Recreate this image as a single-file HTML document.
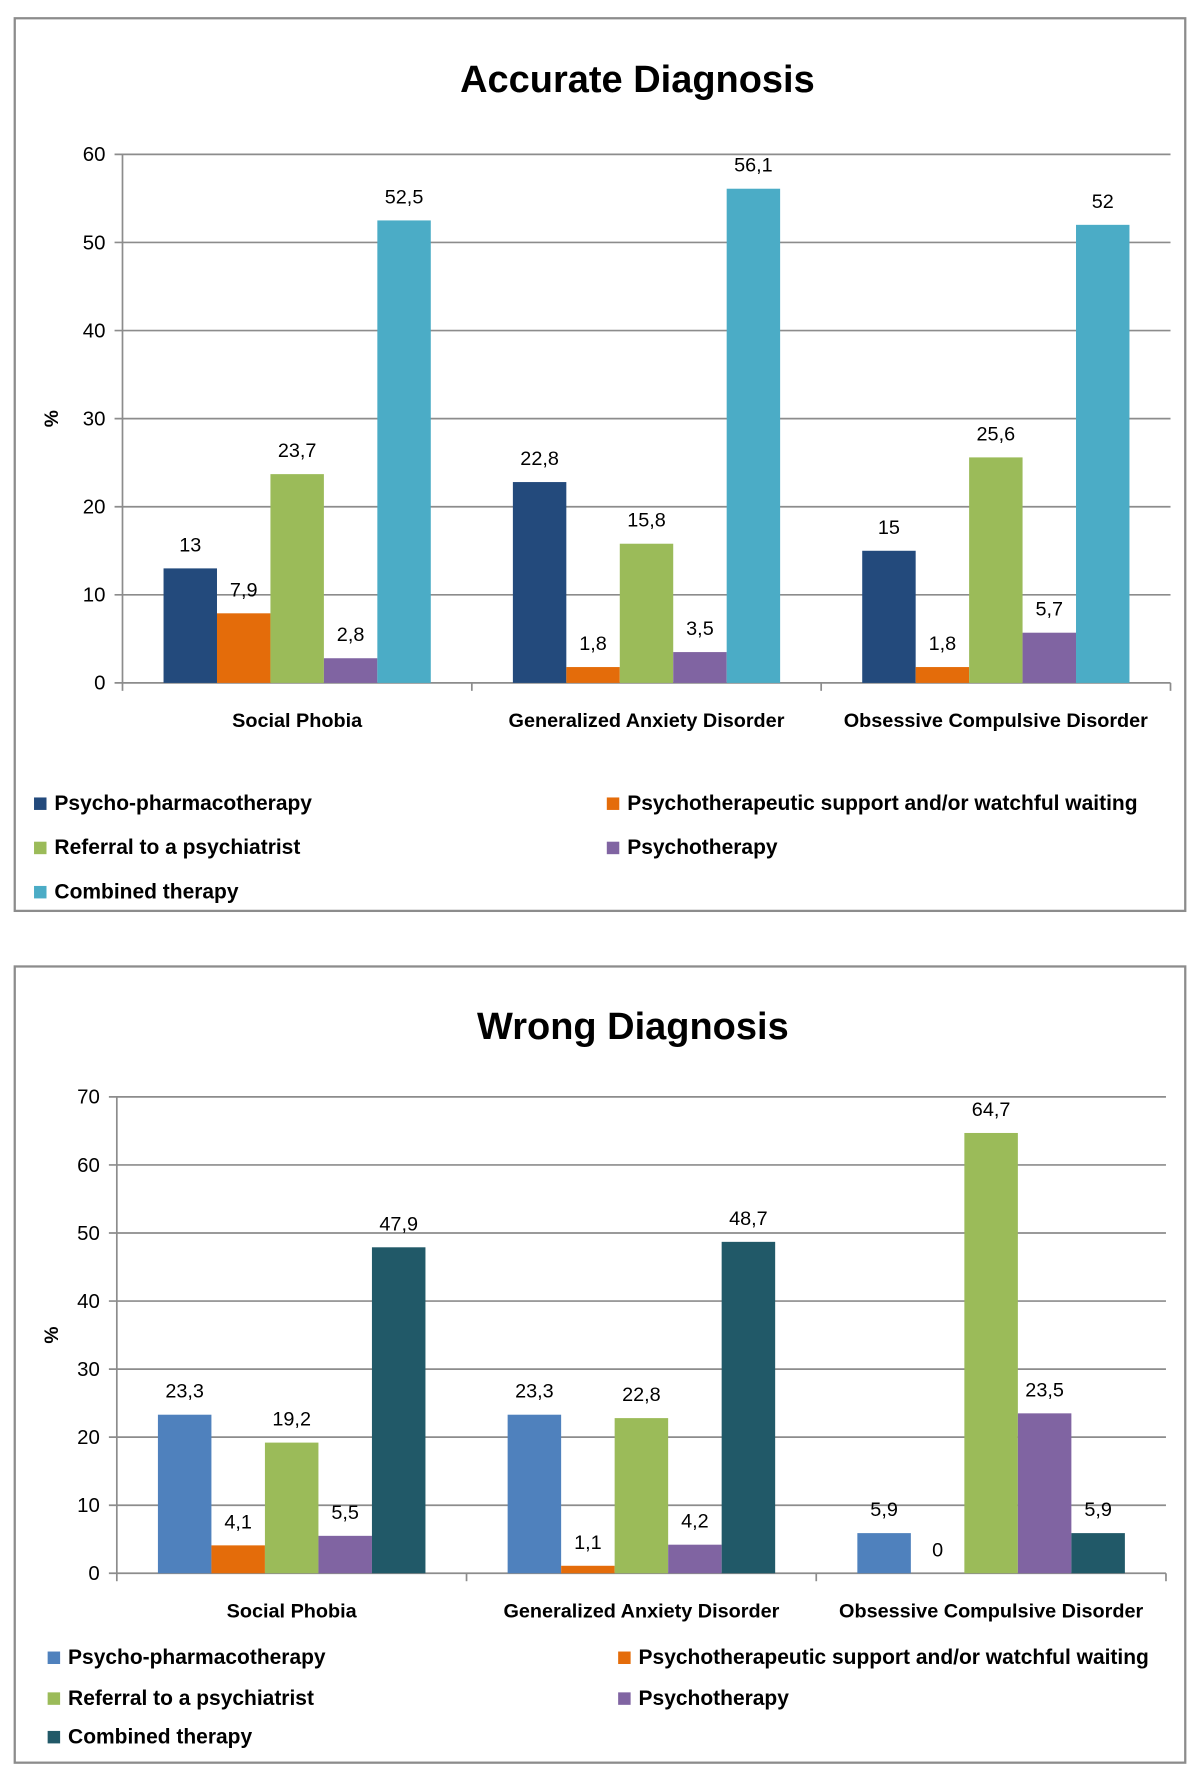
<!DOCTYPE html>
<html><head><meta charset="utf-8"><style>
html,body{margin:0;padding:0;background:#fff}
svg{display:block}
text{font-family:"Liberation Sans",sans-serif}
</style></head><body>
<svg id="svg" width="1200" height="1773" viewBox="0 0 1058 1563">
<rect x="13" y="16" width="1032" height="787" fill="#fff" stroke="#8c8c8c" stroke-width="2"/>
<rect x="13" y="852" width="1032" height="702" fill="#fff" stroke="#8c8c8c" stroke-width="2"/>
<text x="562" y="81" text-anchor="middle" font-size="33.5" font-weight="bold">Accurate Diagnosis</text>
<text x="558" y="916" text-anchor="middle" font-size="33.5" font-weight="bold">Wrong Diagnosis</text>
<g id="c1"></g><g id="c2"></g>
</svg>
<script>
const categories = ["Social Phobia","Generalized Anxiety Disorder","Obsessive Compulsive Disorder"];
const seriesNames = ["Psycho-pharmacotherapy","Psychotherapeutic support and/or watchful waiting","Referral to a psychiatrist","Psychotherapy","Combined therapy"];
const accPharma = [13,22.8,15];
const accSupport = [7.9,1.8,1.8];
const accReferral = [23.7,15.8,25.6];
const accPsychotherapy = [2.8,3.5,5.7];
const accCombined = [52.5,56.1,52];
const wrongPharma = [23.3,23.3,5.9];
const wrongSupport = [4.1,1.1,0];
const wrongReferral = [19.2,22.8,64.7];
const wrongPsychotherapy = [5.5,4.2,23.5];
const wrongCombined = [47.9,48.7,5.9];
const accTicks = [0,10,20,30,40,50,60];
const wrongTicks = [0,10,20,30,40,50,60,70];

const NS="http://www.w3.org/2000/svg";
function mk(tag,attrs,parent,txt){const e=document.createElementNS(NS,tag);for(const k in attrs)e.setAttribute(k,attrs[k]);if(txt!==undefined)e.textContent=txt;parent.appendChild(e);return e;}
function fmt(v){return String(v).replace('.',',');}

function draw(gid,cfg){
  const g=document.getElementById(gid);
  const {x0,x1,yTop,yBot,max,ticks,series,colors,catY,legY,legX1,legX2,prefix}=cfg;
  const ys=v=>yBot-(v/max)*(yBot-yTop);
  const gw=(x1-x0)/categories.length;
  ticks.forEach(t=>{
    const l=mk('line',{x1:x0-7,x2:x1,y1:ys(t),y2:ys(t),stroke:'#8c8c8c','stroke-width':1.5},g);
    
    
    const tx=mk('text',{x:x0-15,y:ys(t)+6,'text-anchor':'end','font-size':18},g,String(t));
    
    
  });
  const ax=mk('line',{x1:x0,x2:x0,y1:yTop,y2:yBot,stroke:'#8c8c8c','stroke-width':1.5},g);
  
  
  for(let i=0;i<=categories.length;i++){
    const t=mk('line',{x1:x0+i*gw,x2:x0+i*gw,y1:yBot,y2:yBot+7,stroke:'#8c8c8c','stroke-width':1.5},g);
    
    
  }
  const yl=mk('text',{x:0,y:0,transform:`translate(51,${(yTop+yBot)/2}) rotate(-90)`,'text-anchor':'middle','font-size':17,'font-weight':'bold'},g,'%');
  
  
  const bw=gw*0.153, pad=(gw-bw*series.length)/2;
  categories.forEach((c,ci)=>{
    series.forEach((s,si)=>{
      const v=s[ci];const x=x0+ci*gw+pad+si*bw;
      const r=mk('rect',{x:x,y:ys(v),width:bw,height:yBot-ys(v),fill:colors[si]},g);
      
      
      const lb=mk('text',{x:x+bw/2,y:ys(v)-15,'text-anchor':'middle','font-size':17.5},g,fmt(v));
      
      
    });
    const cl=mk('text',{x:x0+ci*gw+gw/2,y:catY,'text-anchor':'middle','font-size':17.5,'font-weight':'bold'},g,c);
    
    
  });
  seriesNames.forEach((n,i)=>{
    const col=i%2, row=Math.floor(i/2);
    const lx=col?legX2:legX1, ly=legY[row];
    const sq=mk('rect',{x:lx,y:ly-11,width:11,height:11,fill:colors[i]},g);
    
    
    const lt=mk('text',{x:lx+18,y:ly,'font-size':18.5,'font-weight':'bold'},g,n);
    
    
  });
}
draw('c1',{x0:108,x1:1032,yTop:136,yBot:602,max:60,ticks:accTicks,
  series:[accPharma,accSupport,accReferral,accPsychotherapy,accCombined],
  colors:['#234A7C','#E46C0A','#9BBB59','#8064A2','#4BACC6'],
  catY:641,legY:[714,753,792],legX1:30,legX2:535,prefix:'accurate'});
draw('c2',{x0:103,x1:1028,yTop:967,yBot:1387,max:70,ticks:wrongTicks,
  series:[wrongPharma,wrongSupport,wrongReferral,wrongPsychotherapy,wrongCombined],
  colors:['#4F81BD','#E46C0A','#9BBB59','#8064A2','#215968'],
  catY:1426,legY:[1467,1503,1537],legX1:42,legX2:545,prefix:'wrong'});
</script>
</body></html>
